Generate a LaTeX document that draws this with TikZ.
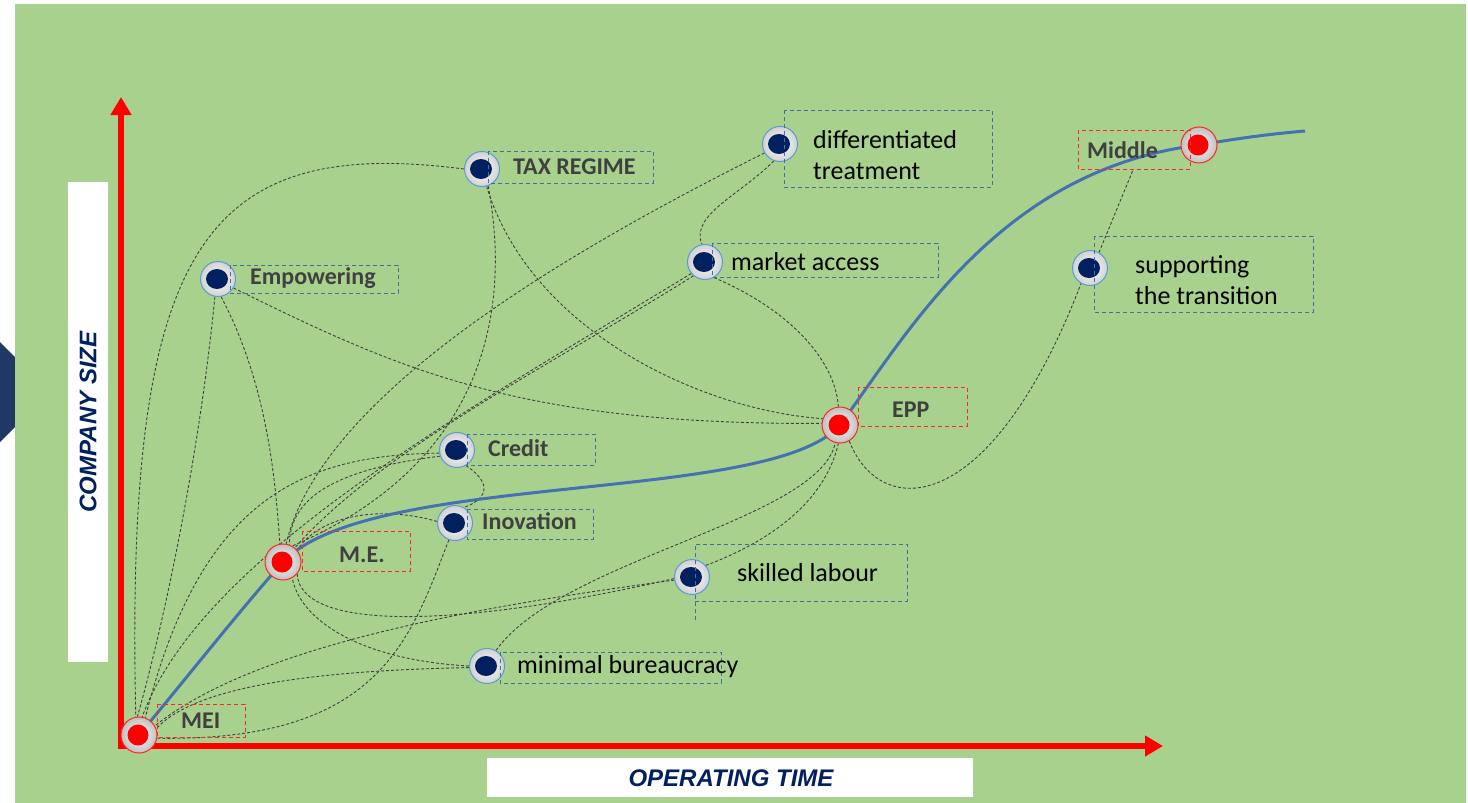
\documentclass[tikz,border=0pt]{standalone}
\usepackage{fontspec}
\setmainfont{Carlito}
\newfontfamily\axisfont{Liberation Sans}
\usetikzlibrary{arrows.meta}

\definecolor{meadow}{RGB}{169,209,142}
\definecolor{navy}{RGB}{0,32,96}
\definecolor{chevron}{RGB}{32,56,100}
\definecolor{trend}{RGB}{68,114,176}
\definecolor{rim}{RGB}{91,155,213}
\definecolor{boxblue}{RGB}{65,113,156}
\definecolor{lblgray}{RGB}{64,64,64}

\pgfdeclarelayer{bg}
\pgfdeclarelayer{lines}
\pgfsetlayers{bg,lines,main}

\tikzset{
  bluedot/.style={circle, minimum size=35pt, inner sep=0pt, draw=rim, line width=1pt,
    inner color=white, outer color=black!18,
    path picture={\fill[navy] ([xshift=-1pt]path picture bounding box.center) ellipse [x radius=11pt, y radius=10pt];}},
  reddot/.style={circle, minimum size=36pt, inner sep=0pt, draw=red!85, line width=1pt,
    inner color=white, outer color=black!25,
    path picture={\fill[red] ([xshift=-1pt]path picture bounding box.center) circle [radius=10.5pt];}},
  boldlbl/.style={inner sep=0pt, anchor=west, text=lblgray, font=\fontsize{24}{28}\selectfont\bfseries},
  plainlbl/.style={inner sep=0pt, anchor=west, align=left, text=black, font=\fontsize{26}{31}\selectfont},
  bluebox/.style={draw=boxblue, line width=1pt, dash pattern=on 4pt off 3pt},
  redbox/.style={draw=red!85, line width=1pt, dash pattern=on 4pt off 3pt},
  link/.style={draw=black!75, line width=0.9pt, dash pattern=on 3pt off 2pt},
  axis/.style={draw=red, line width=6pt, line join=miter},
  trendline/.style={draw=trend, line width=3pt},
  axislbl/.style={text=navy, font=\axisfont\fontsize{24}{28}\selectfont\bfseries\itshape}
}

\begin{document}
\begin{tikzpicture}[x=1pt, y=-1pt]
  \useasboundingbox (0,0) rectangle (1468,803);

  \begin{pgfonlayer}{bg}
    \fill[white] (0,0) rectangle (1468,803);
    \fill[chevron] (0,342) -- (15,357) -- (15,427) -- (0,442) -- cycle;
    \fill[meadow] (15,4) rectangle (1466,803);
    \fill[white] (68,182) rectangle (108,662);
    \fill[white] (487,758) rectangle (973,797);
  \end{pgfonlayer}

  \node[axislbl, rotate=90] (ysize) at (88,422) {COMPANY SIZE};
  \node[axislbl] (xtime) at (731,778) {OPERATING TIME};

  \node[reddot] (mei) at (139,735) {};
  \node[reddot] (me) at (283,562) {};
  \node[reddot] (epp) at (840,425) {};
  \node[reddot] (mid) at (1199,145) {};

  \node[bluedot] (tax) at (482,169) {};
  \node[bluedot] (emp) at (218,279) {};
  \node[bluedot] (diff) at (780,144) {};
  \node[bluedot] (mkt) at (705,262) {};
  \node[bluedot] (sup) at (1090,268) {};
  \node[bluedot] (cred) at (457,450) {};
  \node[bluedot] (inov) at (455,523) {};
  \node[bluedot] (skill) at (692,577) {};
  \node[bluedot] (bur) at (487,666) {};

  \coordinate (origin) at (121,746);
  \coordinate (ytip) at (121,97);
  \coordinate (xtip) at (1163,746);
  \coordinate (midfoot) at (1133,170);
  \coordinate (tail) at (1305,131);

  % label frames
  \draw[redbox] (157,704) rectangle (245,737);
  \draw[redbox] (302,531) rectangle (410,571);
  \draw[redbox] (858,387) rectangle (967,426);
  \draw[redbox] (1078,130) rectangle (1190,169);
  \draw[bluebox] (488,151) rectangle (653,183);
  \draw[bluebox] (230,265) rectangle (398,293);
  \draw[bluebox] (784,110) rectangle (992,187);
  \draw[bluebox] (712,243) rectangle (938,277);
  \draw[bluebox] (1094,236) rectangle (1313,312);
  \draw[bluebox] (467,434) rectangle (595,465);
  \draw[bluebox] (467,509) rectangle (593,539);
  \draw[bluebox] (695,620) -- (695,544) -- (907,544) -- (907,601) -- (695,601);
  \draw[bluebox] (500,652) rectangle (721,683);

  \node[boldlbl] (meilbl) at (181,721) {MEI};
  \node[boldlbl] (melbl) at (339,555) {M.E.};
  \node[boldlbl] (epplbl) at (892,410) {EPP};
  \node[boldlbl] (midlbl) at (1087,150) {Middle};
  \node[boldlbl] (taxlbl) at (513,167) {TAX REGIME};
  \node[boldlbl] (emplbl) at (250,278) {Empowering};
  \node[boldlbl] (credlbl) at (488,448) {Credit};
  \node[boldlbl] (inovlbl) at (482,521) {Inovation};
  \node[plainlbl] (difflbl) at (813,155) {differentiated\\treatment};
  \node[plainlbl] (mktlbl) at (731,262) {market access};
  \node[plainlbl] (suplbl) at (1135,280) {supporting\\the transition};
  \node[plainlbl] (skilllbl) at (737,573) {skilled labour};
  \node[plainlbl] (burlbl) at (517,667) {minimal bureaucracy};

  \begin{pgfonlayer}{lines}
    \draw[axis, {Triangle[width=20pt,length=18pt]}-{Triangle[width=20pt,length=18pt]}]
      (ytip) -- (origin) -- (xtip);

    \draw[link] (tax.west) .. controls (200,135) and (125,250) .. (mei.100);
    \draw[link] (tax.-70) .. controls (515,330) and (470,470) .. (me.60);
    \draw[link] (tax.-75) .. controls (530,330) and (700,410) .. (epp.160);
    \draw[link] (emp.-100) .. controls (200,450) and (165,620) .. (mei.95);
    \draw[link] (emp.-80) .. controls (265,380) and (275,470) .. (me.100);
    \draw[link] (emp.-30) .. controls (400,370) and (520,425) .. (epp.175);
    \draw[link] (diff.-150) .. controls (550,260) and (320,400) .. (me.80);
    \draw[link] (diff.-110) .. controls (740,195) and (690,215) .. (mkt.100);
    \draw[link] (mkt.-60) .. controls (790,310) and (835,360) .. (epp.95);
    \draw[link] (mkt.-130) .. controls (560,360) and (380,450) .. (me.50);
    \draw[link] (mkt.-140) .. controls (450,420) and (200,560) .. (mei.80);
    \draw[link] (cred.-170) .. controls (300,455) and (200,500) .. (mei.70);
    \draw[link] (cred.-160) .. controls (330,470) and (290,500) .. (me.70);
    \draw[link] (cred.-60) .. controls (495,485) and (485,500) .. (inov.60);
    \draw[link] (inov.175) .. controls (380,505) and (320,515) .. (me.40);
    \draw[link] (inov.-110) .. controls (410,640) and (380,742) .. (mei.-10);
    \draw[link] (skill.185) .. controls (450,630) and (300,630) .. (me.-40);
    \draw[link] (skill.190) .. controls (450,610) and (250,650) .. (mei.30);
    \draw[link] (skill.40) .. controls (800,530) and (830,480) .. (epp.-95);
    \draw[link] (bur.180) .. controls (360,660) and (300,620) .. (me.-60);
    \draw[link] (bur.185) .. controls (350,670) and (200,680) .. (mei.20);
    \draw[link] (bur.60) .. controls (560,560) and (820,520) .. (epp.-105);
    \draw[link] (epp.-60) .. controls (880,520) and (990,520) .. (sup.-120);
    \draw[link] (sup.60) -- (midfoot);

    \draw[trendline] (mei.center) .. controls (185,680) and (240,610) .. (me.center)
      .. controls (370,470) and (770,505) .. (epp.center)
      .. controls (910,330) and (1000,170) .. (mid.center)
      .. controls (1240,138) and (1270,134) .. (tail);
  \end{pgfonlayer}
\end{tikzpicture}
\end{document}
